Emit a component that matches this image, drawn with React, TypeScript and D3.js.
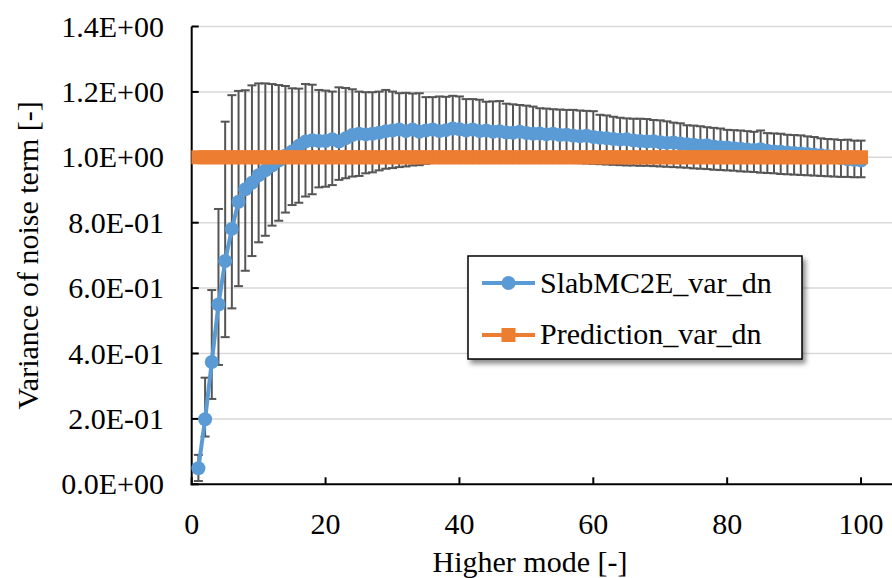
import React from "react";
import * as d3 from "d3";

// mode numbers on the x axis
const modes = [
  1, 2, 3, 4, 5, 6, 7, 8, 9, 10, 11, 12, 13, 14, 15, 16, 17, 18, 19, 20,
  21, 22, 23, 24, 25, 26, 27, 28, 29, 30, 31, 32, 33, 34, 35, 36, 37, 38, 39, 40,
  41, 42, 43, 44, 45, 46, 47, 48, 49, 50, 51, 52, 53, 54, 55, 56, 57, 58, 59, 60,
  61, 62, 63, 64, 65, 66, 67, 68, 69, 70, 71, 72, 73, 74, 75, 76, 77, 78, 79, 80,
  81, 82, 83, 84, 85, 86, 87, 88, 89, 90, 91, 92, 93, 94, 95, 96, 97, 98, 99, 100,
];

// SlabMC2E_var_dn (mean)
const slabVar = [
  0.049, 0.199, 0.374, 0.55, 0.683, 0.781, 0.864, 0.902, 0.922, 0.945,
  0.96, 0.975, 0.99, 1.005, 1.018, 1.035, 1.048, 1.052, 1.05, 1.05,
  1.055, 1.048, 1.058, 1.068, 1.072, 1.07, 1.072, 1.075, 1.08, 1.082,
  1.085, 1.08, 1.085, 1.078, 1.082, 1.085, 1.08, 1.083, 1.088, 1.086,
  1.082, 1.085, 1.08, 1.082, 1.078, 1.08, 1.076, 1.075, 1.078, 1.074,
  1.072, 1.073, 1.07, 1.072, 1.068, 1.069, 1.066, 1.064, 1.066, 1.062,
  1.06, 1.058, 1.056, 1.054, 1.055, 1.051, 1.05, 1.048, 1.049, 1.046,
  1.044, 1.045, 1.042, 1.04, 1.038, 1.036, 1.037, 1.033, 1.031, 1.03,
  1.028, 1.026, 1.024, 1.022, 1.025, 1.02, 1.018, 1.017, 1.015, 1.013,
  1.012, 1.01, 1.008, 1.006, 1.004, 1.002, 0.998, 0.994, 0.992, 0.99,
];

// error bar ends
const slabHigh = [
  0.09, 0.326, 0.594, 0.842, 1.109, 1.19, 1.203, 1.205, 1.22, 1.226,
  1.226, 1.224, 1.221, 1.218, 1.211, 1.21, 1.224, 1.222, 1.206, 1.204,
  1.201, 1.214, 1.212, 1.208, 1.201, 1.199, 1.199, 1.201, 1.206, 1.201,
  1.196, 1.197, 1.195, 1.196, 1.184, 1.184, 1.186, 1.185, 1.188, 1.186,
  1.178, 1.178, 1.176, 1.17, 1.171, 1.172, 1.164, 1.162, 1.16, 1.158,
  1.155, 1.15, 1.149, 1.147, 1.146, 1.145, 1.145, 1.143, 1.142, 1.141,
  1.13, 1.128, 1.124, 1.121, 1.119, 1.118, 1.118, 1.117, 1.114, 1.113,
  1.11, 1.106, 1.104, 1.098, 1.097, 1.095, 1.092, 1.09, 1.088, 1.084,
  1.083, 1.082, 1.08, 1.078, 1.082, 1.074, 1.073, 1.072, 1.069, 1.068,
  1.067, 1.064, 1.062, 1.058, 1.056, 1.055, 1.053, 1.054, 1.051, 1.051,
];
const slabLow = [
  0.01, 0.146, 0.261, 0.365, 0.45, 0.538, 0.606, 0.653, 0.698, 0.74,
  0.76, 0.791, 0.806, 0.831, 0.854, 0.861, 0.88, 0.887, 0.908, 0.91,
  0.915, 0.931, 0.936, 0.941, 0.943, 0.951, 0.954, 0.96, 0.965, 0.967,
  0.97, 0.972, 0.975, 0.976, 0.98, 0.983, 0.985, 0.988, 0.99, 0.991,
  0.99, 0.992, 0.993, 0.992, 0.993, 0.992, 0.991, 0.99, 0.991, 0.99,
  0.989, 0.988, 0.987, 0.986, 0.985, 0.984, 0.983, 0.982, 0.981, 0.98,
  0.979, 0.978, 0.977, 0.976, 0.975, 0.975, 0.974, 0.974, 0.973, 0.972,
  0.971, 0.97, 0.969, 0.968, 0.966, 0.965, 0.964, 0.962, 0.961, 0.96,
  0.959, 0.957, 0.956, 0.955, 0.953, 0.952, 0.951, 0.949, 0.948, 0.947,
  0.946, 0.945, 0.944, 0.943, 0.942, 0.941, 0.94, 0.94, 0.939, 0.939,
];

// Prediction_var_dn
const prediction = [
  1, 1, 1, 1, 1, 1, 1, 1, 1, 1, 1, 1, 1, 1, 1, 1, 1, 1, 1, 1,
  1, 1, 1, 1, 1, 1, 1, 1, 1, 1, 1, 1, 1, 1, 1, 1, 1, 1, 1, 1,
  1, 1, 1, 1, 1, 1, 1, 1, 1, 1, 1, 1, 1, 1, 1, 1, 1, 1, 1, 1,
  1, 1, 1, 1, 1, 1, 1, 1, 1, 1, 1, 1, 1, 1, 1, 1, 1, 1, 1, 1,
  1, 1, 1, 1, 1, 1, 1, 1, 1, 1, 1, 1, 1, 1, 1, 1, 1, 1, 1, 1,
];

const xTicks = [0, 20, 40, 60, 80, 100];
const yTicks = [0, 0.2, 0.4, 0.6, 0.8, 1.0, 1.2, 1.4];

const W = 892;
const H = 578;
const FONT = '"Liberation Serif", "Times New Roman", "DejaVu Serif", serif';
const BLUE = "#5B9BD5";
const ORANGE = "#ED7D31";

function sci(v: number) {
  const [m, e] = v.toExponential(1).split("e");
  const sign = e[0] === "-" ? "-" : "+";
  const digits = e.replace(/[+-]/, "").padStart(2, "0");
  return m + "E" + sign + digits;
}

export default function App() {
  const x = d3.scaleLinear().domain([0, 105]).range([191.7, 894.5]);
  const y = d3.scaleLinear().domain([0, 1.4]).range([484.3, 26.5]);

  const slabLine = d3
    .line<number>()
    .x((d, i) => x(modes[i]))
    .y((d) => y(d));
  const predLine = d3
    .line<number>()
    .x((d, i) => x(modes[i]))
    .y((d) => y(d));

  const x0 = x(0);
  const y0 = y(0);
  const txt = { fontFamily: FONT, fill: "#000" };

  return (
    <svg
      width={W}
      height={H}
      style={{ position: "absolute", left: 0, top: 0, background: "#fff", fontFamily: FONT }}
    >
      <defs>
        <filter id="shadow" x="-10%" y="-10%" width="130%" height="140%">
          <feDropShadow dx="3" dy="4" stdDeviation="2.5" floodColor="#000" floodOpacity="0.45" />
        </filter>
      </defs>

      {/* gridlines */}
      {yTicks.slice(1).map((t) => (
        <line key={"g" + t} x1={x0} x2={W} y1={y(t)} y2={y(t)} stroke="#D9D9D9" strokeWidth={1.5} />
      ))}

      {/* axes */}
      <line x1={x0} x2={x0} y1={y(1.4)} y2={y0 + 1} stroke="#000" strokeWidth={2} />
      <line x1={x0 - 1} x2={W} y1={y0} y2={y0} stroke="#000" strokeWidth={2} />
      {yTicks.map((t) => (
        <g key={"yt" + t}>
          <line x1={x0} x2={x0 + 7} y1={y(t)} y2={y(t)} stroke="#000" strokeWidth={2} />
          <text x={164} y={y(t) + 10} textAnchor="end" fontSize={30} style={txt}>
            {sci(t)}
          </text>
        </g>
      ))}
      {xTicks.map((t) => (
        <g key={"xt" + t}>
          <line x1={x(t)} x2={x(t)} y1={y0} y2={y0 - 7} stroke="#000" strokeWidth={2} />
          <text x={x(t)} y={534} textAnchor="middle" fontSize={30} style={txt}>
            {t}
          </text>
        </g>
      ))}

      {/* error bars */}
      {modes.map((m, i) => (
        <g key={"e" + m} stroke="#555555" strokeWidth={2}>
          <line x1={x(m)} x2={x(m)} y1={y(slabHigh[i])} y2={y(slabLow[i])} />
          <line x1={x(m) - 4.5} x2={x(m) + 4.5} y1={y(slabHigh[i])} y2={y(slabHigh[i])} />
          <line x1={x(m) - 4.5} x2={x(m) + 4.5} y1={y(slabLow[i])} y2={y(slabLow[i])} />
        </g>
      ))}

      {/* SlabMC2E series */}
      <path d={slabLine(slabVar) || ""} fill="none" stroke={BLUE} strokeWidth={4} strokeLinejoin="round" />
      {modes.map((m, i) => (
        <circle key={"c" + m} cx={x(m)} cy={y(slabVar[i])} r={7} fill={BLUE} />
      ))}

      {/* Prediction series */}
      <path d={predLine(prediction) || ""} fill="none" stroke={ORANGE} strokeWidth={4} />
      {modes.map((m, i) => (
        <rect key={"s" + m} x={x(m) - 7} y={y(prediction[i]) - 7} width={14} height={14} fill={ORANGE} />
      ))}

      {/* axis titles */}
      <text x={530} y={572} textAnchor="middle" fontSize={30} style={txt}>
        Higher mode [-]
      </text>
      <text
        transform={`translate(38, ${y(0.7)}) rotate(-90)`}
        textAnchor="middle"
        fontSize={30}
        style={txt}
      >
        Variance of noise term [-]
      </text>

      {/* legend */}
      <rect x={468} y={256} width={334} height={103} fill="#fff" stroke="#000" strokeWidth={1.5} filter="url(#shadow)" />
      <line x1={482} x2={535} y1={283} y2={283} stroke={BLUE} strokeWidth={4} />
      <circle cx={508.5} cy={283} r={7} fill={BLUE} />
      <text x={540} y={293} fontSize={30} style={txt}>
        SlabMC2E_var_dn
      </text>
      <line x1={482} x2={535} y1={335} y2={335} stroke={ORANGE} strokeWidth={4} />
      <rect x={501.5} y={328} width={14} height={14} fill={ORANGE} />
      <text x={540} y={344} fontSize={30} style={txt}>
        Prediction_var_dn
      </text>
    </svg>
  );
}
